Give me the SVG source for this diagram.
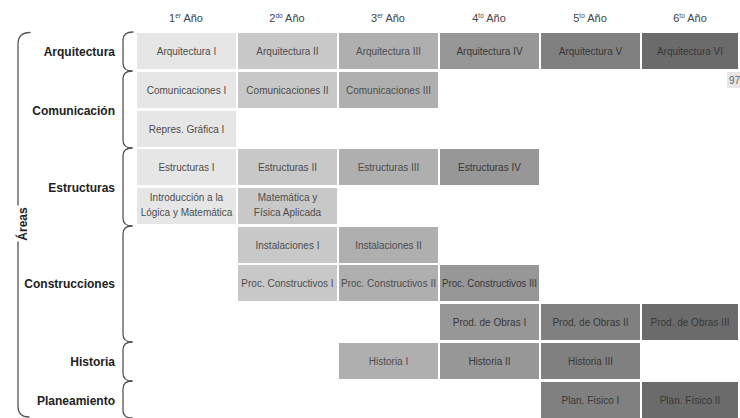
<svg xmlns="http://www.w3.org/2000/svg" width="740" height="418" viewBox="0 0 740 418">
<style>
.bg{fill:#ffffff}
.c1{fill:#e6e6e6}.c2{fill:#c8c8c8}.c3{fill:#afafaf}.c4{fill:#979797}.c5{fill:#808080}.c6{fill:#6b6b6b}
.t{font-family:"Liberation Sans",Arial,sans-serif;font-size:10px;text-anchor:middle;fill:#4d4d4d}
.td{fill:#383838}
.h{font-family:"Liberation Sans",Arial,sans-serif;font-size:11px;text-anchor:middle;fill:#444}
.sup{font-size:6.5px}
.lbl{font-family:"Liberation Sans",Arial,sans-serif;font-size:12px;font-weight:bold;text-anchor:end;fill:#222}
.br{fill:none;stroke:#555;stroke-width:1.3;stroke-linecap:round}
</style>
<rect class="bg" x="0" y="0" width="740" height="418"/>

<g id="headers">
<text class="h" x="186" y="22">1<tspan class="sup" dy="-4">er</tspan><tspan dy="4"> Año</tspan></text>
<text class="h" x="287" y="22">2<tspan class="sup" dy="-4">do</tspan><tspan dy="4"> Año</tspan></text>
<text class="h" x="388" y="22">3<tspan class="sup" dy="-4">er</tspan><tspan dy="4"> Año</tspan></text>
<text class="h" x="489" y="22">4<tspan class="sup" dy="-4">to</tspan><tspan dy="4"> Año</tspan></text>
<text class="h" x="590" y="22">5<tspan class="sup" dy="-4">to</tspan><tspan dy="4"> Año</tspan></text>
<text class="h" x="690" y="22">6<tspan class="sup" dy="-4">to</tspan><tspan dy="4"> Año</tspan></text>
</g>

<g id="connectors">
<path class="br" d="M30,32.5 Q18,32.5 18,44 V205"/>
<path class="br" d="M18,242 V406 Q18,417 29,417"/>
<path class="br" d="M133,32 Q123,32 123,40 V63 Q123,71 132,71"/>
<path class="br" d="M132,71 Q123,71 123,79 V140 Q123,148 132,148"/>
<path class="br" d="M132,148 Q123,148 123,156 V218 Q123,226 132,226"/>
<path class="br" d="M132,226 Q123,226 123,234 V334 Q123,342 132,342"/>
<path class="br" d="M132,342 Q123,342 123,350 V373 Q123,381 132,381"/>
<path class="br" d="M132,381 Q123,381 123,389 V410 Q123,418 132,418"/>
</g>

<g id="areas">
<text class="lbl" transform="translate(27,224) rotate(-90)" style="text-anchor:middle">Áreas</text>
</g>
<g id="label-arquitectura"><text class="lbl" x="115" y="55.5">Arquitectura</text></g>
<g id="label-comunicacion"><text class="lbl" x="115" y="114.5">Comunicación</text></g>
<g id="label-estructuras"><text class="lbl" x="115" y="192">Estructuras</text></g>
<g id="label-construcciones"><text class="lbl" x="115" y="288">Construcciones</text></g>
<g id="label-historia"><text class="lbl" x="115" y="366">Historia</text></g>
<g id="label-planeamiento"><text class="lbl" x="115" y="404.5">Planeamiento</text></g>

<g id="arq1"><rect class="c1" x="137" y="33" width="99" height="36"/><text class="t" x="186.5" y="55">Arquitectura I</text></g>
<g id="arq2"><rect class="c2" x="238" y="33" width="99" height="36"/><text class="t" x="287.5" y="55">Arquitectura II</text></g>
<g id="arq3"><rect class="c3" x="339" y="33" width="99" height="36"/><text class="t" x="388.5" y="55">Arquitectura III</text></g>
<g id="arq4"><rect class="c4" x="440" y="33" width="99" height="36"/><text class="t td" x="489.5" y="55">Arquitectura IV</text></g>
<g id="arq5"><rect class="c5" x="541" y="33" width="99" height="36"/><text class="t td" x="590.5" y="55">Arquitectura V</text></g>
<g id="arq6"><rect class="c6" x="642" y="33" width="96" height="36"/><text class="t td" x="690" y="55">Arquitectura VI</text></g>
<g id="page97"><rect x="727" y="72" width="13" height="16" fill="#e6e6e6"/><text x="729" y="84" style="font-family:'Liberation Sans',Arial,sans-serif;font-size:10px;fill:#666">97</text></g>

<g id="com1"><rect class="c1" x="137" y="72" width="99" height="36"/><text class="t" x="186.5" y="94">Comunicaciones I</text></g>
<g id="com2"><rect class="c2" x="238" y="72" width="99" height="36"/><text class="t" x="287.5" y="94">Comunicaciones II</text></g>
<g id="com3"><rect class="c3" x="339" y="72" width="99" height="36"/><text class="t" x="388.5" y="94">Comunicaciones III</text></g>

<g id="rep1"><rect class="c1" x="137" y="111" width="99" height="36"/><text class="t" x="186.5" y="133">Repres. Gráfica I</text></g>

<g id="est1"><rect class="c1" x="137" y="149" width="99" height="36"/><text class="t" x="186.5" y="171">Estructuras I</text></g>
<g id="est2"><rect class="c2" x="238" y="149" width="99" height="36"/><text class="t" x="287.5" y="171">Estructuras II</text></g>
<g id="est3"><rect class="c3" x="339" y="149" width="99" height="36"/><text class="t" x="388.5" y="171">Estructuras III</text></g>
<g id="est4"><rect class="c4" x="440" y="149" width="99" height="36"/><text class="t td" x="489.5" y="171">Estructuras IV</text></g>

<g id="intro"><rect class="c1" x="137" y="188" width="99" height="36"/><text class="t" x="186.5" y="201">Introducción a la</text><text class="t" x="186.5" y="216">Lógica y Matemática</text></g>
<g id="matfis"><rect class="c2" x="238" y="188" width="99" height="36"/><text class="t" x="287.5" y="201">Matemática y</text><text class="t" x="287.5" y="216">Física Aplicada</text></g>

<g id="inst1"><rect class="c2" x="238" y="227" width="99" height="36"/><text class="t" x="287.5" y="249">Instalaciones I</text></g>
<g id="inst2"><rect class="c3" x="339" y="227" width="99" height="36"/><text class="t" x="388.5" y="249">Instalaciones II</text></g>

<g id="proc1"><rect class="c2" x="238" y="265" width="99" height="36"/><text class="t" x="287.5" y="287">Proc. Constructivos I</text></g>
<g id="proc2"><rect class="c3" x="339" y="265" width="99" height="36"/><text class="t" x="388.5" y="287">Proc. Constructivos II</text></g>
<g id="proc3"><rect class="c4" x="440" y="265" width="99" height="36"/><text class="t td" x="489.5" y="287" textLength="95" lengthAdjust="spacingAndGlyphs">Proc. Constructivos III</text></g>

<g id="prod1"><rect class="c4" x="440" y="304" width="99" height="36"/><text class="t td" x="489.5" y="326">Prod. de Obras I</text></g>
<g id="prod2"><rect class="c5" x="541" y="304" width="99" height="36"/><text class="t td" x="590.5" y="326">Prod. de Obras II</text></g>
<g id="prod3"><rect class="c6" x="642" y="304" width="96" height="36"/><text class="t td" x="690" y="326">Prod. de Obras III</text></g>

<g id="hist1"><rect class="c3" x="339" y="343" width="99" height="36"/><text class="t" x="388.5" y="365">Historia I</text></g>
<g id="hist2"><rect class="c4" x="440" y="343" width="99" height="36"/><text class="t td" x="489.5" y="365">Historia II</text></g>
<g id="hist3"><rect class="c5" x="541" y="343" width="99" height="36"/><text class="t td" x="590.5" y="365">Historia III</text></g>

<g id="plan1"><rect class="c5" x="541" y="382" width="99" height="36"/><text class="t td" x="590.5" y="404">Plan. Físico I</text></g>
<g id="plan2"><rect class="c6" x="642" y="382" width="96" height="36"/><text class="t td" x="690" y="404">Plan. Físico II</text></g>
</svg>
